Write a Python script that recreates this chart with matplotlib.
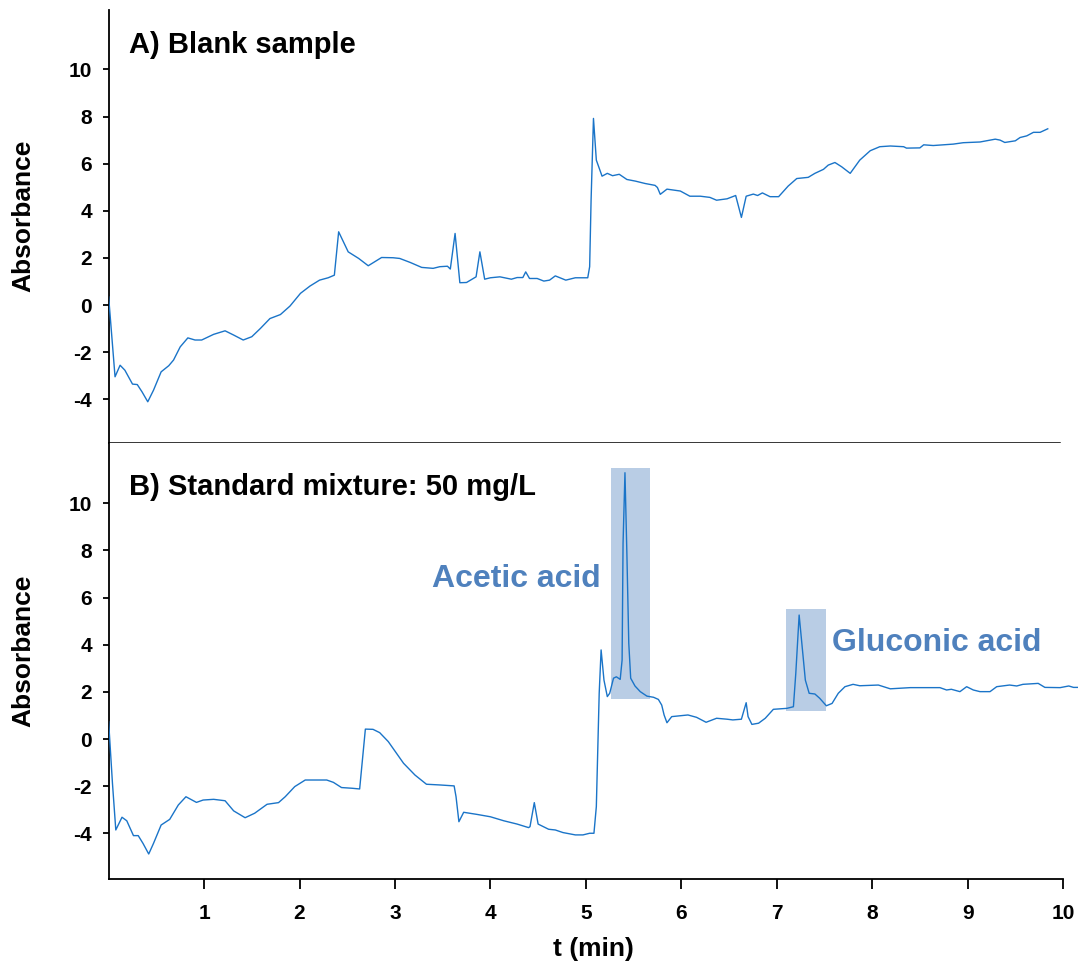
import numpy as np
import matplotlib
matplotlib.use("Agg")
import matplotlib.pyplot as plt
from matplotlib.patches import Rectangle

plt.rcParams['font.family'] = ['Liberation Sans', 'DejaVu Sans']
plt.rcParams['font.weight'] = 'bold'

# chromatogram A) blank sample (t in min, absorbance)
blank_t = [0.0, 0.067, 0.12, 0.17, 0.25, 0.30, 0.35, 0.41, 0.47, 0.55, 0.63, 0.68, 0.75, 0.83,
           0.905, 0.975, 1.10, 1.22, 1.31, 1.41, 1.50, 1.59, 1.69, 1.80, 1.90, 2.01, 2.11, 2.21,
           2.30, 2.365, 2.41, 2.51, 2.62, 2.72, 2.86, 2.98, 3.05, 3.16, 3.28, 3.40, 3.47, 3.55,
           3.58, 3.63, 3.68, 3.75, 3.85, 3.89, 3.94, 4.00, 4.10, 4.22, 4.28, 4.34, 4.37, 4.41,
           4.49, 4.56, 4.62, 4.68, 4.79, 4.89, 5.02, 5.04, 5.055, 5.08, 5.11, 5.17, 5.225, 5.28,
           5.35, 5.43, 5.52, 5.62, 5.725, 5.75, 5.78, 5.85, 5.99, 6.09, 6.20, 6.30, 6.37, 6.48,
           6.57, 6.63, 6.68, 6.755, 6.80, 6.85, 6.93, 7.02, 7.12, 7.21, 7.33, 7.40, 7.49, 7.54,
           7.61, 7.68, 7.77, 7.87, 7.98, 8.08, 8.19, 8.33, 8.36, 8.50, 8.54, 8.64, 8.85, 8.955,
           9.13, 9.29, 9.34, 9.39, 9.50, 9.55, 9.62, 9.69, 9.76, 9.84]
blank_abs = [0.35, -3.04, -2.55, -2.76, -3.35, -3.37, -3.68, -4.10, -3.61, -2.83, -2.57, -2.33, -1.77, -1.39,
             -1.48, -1.48, -1.24, -1.09, -1.27, -1.48, -1.34, -0.99, -0.57, -0.40, -0.04, 0.50, 0.81, 1.06,
             1.16, 1.27, 3.11, 2.26, 1.98, 1.67, 2.02, 2.01, 1.98, 1.81, 1.60, 1.56, 1.63, 1.65,
             1.53, 3.04, 0.95, 0.96, 1.20, 2.26, 1.10, 1.16, 1.20, 1.10, 1.17, 1.17, 1.41, 1.13,
             1.13, 1.02, 1.06, 1.24, 1.06, 1.16, 1.16, 1.63, 4.45, 7.92, 6.15, 5.47, 5.59, 5.49,
             5.55, 5.33, 5.26, 5.16, 5.08, 4.99, 4.70, 4.92, 4.84, 4.62, 4.62, 4.57, 4.45, 4.51,
             4.65, 3.72, 4.62, 4.71, 4.65, 4.76, 4.60, 4.60, 5.05, 5.37, 5.42, 5.59, 5.76, 5.94,
             6.05, 5.87, 5.59, 6.15, 6.55, 6.72, 6.75, 6.72, 6.66, 6.67, 6.80, 6.77, 6.83, 6.89,
             6.92, 7.04, 7.00, 6.90, 6.97, 7.11, 7.18, 7.33, 7.33, 7.48]

# chromatogram B) standard mixture 50 mg/L
mix_t = [0.0, 0.04, 0.075, 0.14, 0.19, 0.26, 0.31, 0.36, 0.42, 0.47, 0.55, 0.64, 0.73, 0.81,
         0.92, 0.99, 1.10, 1.22, 1.31, 1.43, 1.53, 1.66, 1.78, 1.85, 1.95, 2.06, 2.285, 2.355,
         2.44, 2.55, 2.63, 2.69, 2.77, 2.84, 2.93, 3.09, 3.21, 3.33, 3.47, 3.62, 3.64, 3.67,
         3.72, 3.86, 4.00, 4.14, 4.28, 4.40, 4.415, 4.46, 4.50, 4.61, 4.68, 4.76, 4.89, 4.97,
         5.04, 5.085, 5.11, 5.13, 5.14, 5.16, 5.19, 5.225, 5.25, 5.29, 5.32, 5.36, 5.38, 5.39,
         5.41, 5.43, 5.45, 5.47, 5.515, 5.57, 5.64, 5.71, 5.76, 5.795, 5.82, 5.85, 5.90, 5.97,
         6.07, 6.16, 6.26, 6.37, 6.48, 6.54, 6.63, 6.68, 6.70, 6.74, 6.81, 6.88, 6.965, 7.105,
         7.175, 7.20, 7.235, 7.26, 7.30, 7.34, 7.40, 7.45, 7.52, 7.58, 7.645, 7.715, 7.80, 7.87,
         8.065, 8.12, 8.19, 8.40, 8.71, 8.78, 8.83, 8.92, 8.99, 9.06, 9.13, 9.235, 9.305, 9.44,
         9.515, 9.58, 9.74, 9.81, 9.97, 10.06, 10.11, 10.16]
mix_abs = [0.73, -1.88, -3.86, -3.32, -3.47, -4.10, -4.10, -4.43, -4.88, -4.43, -3.65, -3.41, -2.80, -2.45,
           -2.69, -2.59, -2.56, -2.62, -3.05, -3.34, -3.15, -2.77, -2.70, -2.45, -2.02, -1.74, -1.74, -1.84,
           -2.06, -2.09, -2.12, 0.42, 0.41, 0.27, -0.11, -1.03, -1.53, -1.92, -1.95, -1.99, -2.45, -3.51,
           -3.11, -3.20, -3.30, -3.47, -3.61, -3.76, -3.72, -2.70, -3.61, -3.83, -3.86, -3.97, -4.07, -4.07,
           -4.00, -4.00, -2.87, 0.38, 1.94, 3.78, 2.50, 1.80, 1.94, 2.58, 2.64, 2.53, 3.35, 8.30,
           11.30, 7.88, 4.06, 2.58, 2.25, 2.01, 1.82, 1.77, 1.68, 1.44, 1.02, 0.69, 0.95, 0.98,
           1.02, 0.92, 0.71, 0.88, 0.84, 0.81, 0.84, 1.54, 0.95, 0.62, 0.67, 0.88, 1.26, 1.30,
           1.37, 2.79, 5.26, 4.20, 2.50, 1.94, 1.91, 1.73, 1.41, 1.51, 1.94, 2.22, 2.32, 2.26,
           2.29, 2.22, 2.13, 2.18, 2.18, 2.08, 2.11, 2.01, 2.22, 2.08, 2.01, 2.01, 2.22, 2.29,
           2.25, 2.32, 2.36, 2.19, 2.18, 2.25, 2.19, 2.19]

# highlighted peaks: (t start, t end, abs low, abs high)
peak_names = ["Acetic acid", "Gluconic acid"]
peak_boxes = [(5.26, 5.67, 1.71, 11.5), (7.10, 7.52, 1.20, 5.51)]

yticks = [-4, -2, 0, 2, 4, 6, 8, 10]
xticks = [1, 2, 3, 4, 5, 6, 7, 8, 9, 10]

line_col = "#1a74c8"
box_col = "#b9cde5"
label_col = "#4f81bd"

fig = plt.figure(figsize=(10.81, 9.69), dpi=100)
ax1 = fig.add_axes([0.1005, 0.5428, 0.897, 0.4469])
ax2 = fig.add_axes([0.1005, 0.0929, 0.897, 0.4499])

for ax in (ax1, ax2):
    ax.set_xlim(0, 10.16)
    ax.set_yticks(yticks)
    ax.set_yticklabels([str(v) for v in yticks], fontsize=15, fontweight='bold')
    ax.spines['top'].set_visible(False)
    ax.spines['right'].set_visible(False)
    ax.spines['left'].set_linewidth(1.3)
    ax.spines['bottom'].set_linewidth(1.3)
    ax.tick_params(axis='y', direction='out', length=4, width=1.3, pad=8)
    ax.set_ylabel("Absorbance", fontsize=19, fontweight='bold')
    ax.yaxis.set_label_coords(-0.076, 0.524)

ax1.set_ylim(-5.85, 12.52)
ax2.set_ylim(-5.94, 12.56)

# top panel's bottom spine works as the separator line
ax1.spines['bottom'].set_bounds(0, 9.97)
ax1.spines['bottom'].set_linewidth(1.1)
ax1.set_xticks([])
ax2.spines['bottom'].set_bounds(0, 10)
ax2.set_xticks(xticks)
ax2.set_xticklabels([str(v) for v in xticks], fontsize=15, fontweight='bold')
ax2.tick_params(axis='x', direction='out', length=7, width=1.3, pad=11)
ax2.set_xlabel("t (min)", fontsize=19, fontweight='bold', labelpad=10)

ax1.plot(blank_t, blank_abs, color=line_col, lw=1.0, zorder=3)
ax2.plot(mix_t, mix_abs, color=line_col, lw=1.0, zorder=3)

for (t0, t1, a0, a1) in peak_boxes:
    ax2.add_patch(Rectangle((t0, a0), t1 - t0, a1 - a0, facecolor=box_col,
                            edgecolor='none', zorder=1))

ax2.text(5.15, 6.79, peak_names[0], color=label_col, fontsize=23, fontweight='bold',
         ha='right', va='center')
ax2.text(7.58, 4.07, peak_names[1], color=label_col, fontsize=23, fontweight='bold',
         ha='left', va='center')

ax1.text(0.21, 11.03, "A) Blank sample", fontsize=21, fontweight='bold', va='center')
ax2.text(0.21, 10.69, "B) Standard mixture: 50 mg/L", fontsize=21, fontweight='bold', va='center')

fig.savefig("out.png", dpi=100)
